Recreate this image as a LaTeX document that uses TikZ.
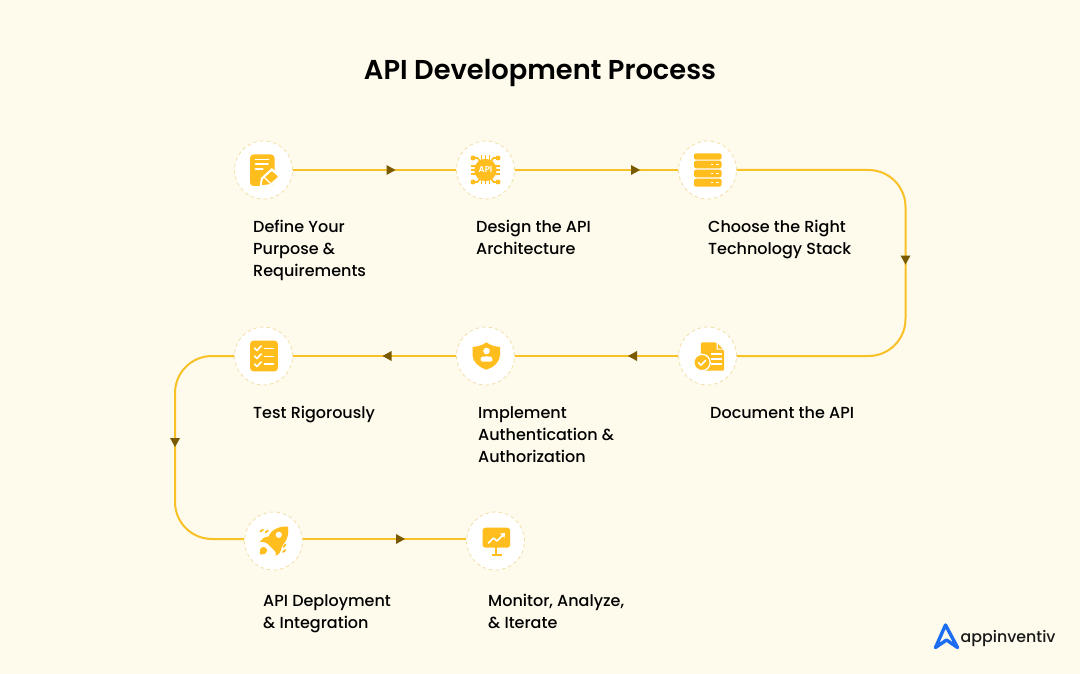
\documentclass[tikz,border=0pt]{standalone}
\usepackage{fontspec}
\setmainfont{Poppins}
\newfontfamily\medfont{Poppins Medium}
\newfontfamily\semifont{Poppins SemiBold}
\usetikzlibrary{calc}
\definecolor{bgcol}{HTML}{FEFAEC}
\definecolor{flowcol}{HTML}{F8C126}
\definecolor{tipcol}{HTML}{7A5A00}
\definecolor{ringcol}{HTML}{F3DFA6}
\definecolor{iconcol}{HTML}{FFBD1E}
\definecolor{logocol}{HTML}{1C6DF2}
\tikzset{
  x=1pt,y=-1pt,
  stepdisc/.style={circle,fill=white,draw=ringcol,line width=0.8pt,dash pattern=on 3.5pt off 3pt,minimum size=58pt,inner sep=0pt},
  flow/.style={draw=flowcol,line width=2pt},
  steplabel/.style={anchor=north west,inner sep=0pt,align=left,font=\medfont\fontsize{16}{22}\selectfont,text=black},
  tip/.pic={\fill[tipcol] (4.5,0) -- (-4.5,-5) -- (-4.5,5) -- cycle;},
  whitestroke/.style={draw=white,line width=1.6pt,line cap=round,line join=round},
}
\newcommand{\fl}[1]{\rule{0pt}{13pt}#1}
\begin{document}
\begin{tikzpicture}
\useasboundingbox (0,0) rectangle (1080,674);
\fill[bgcol] (0,0) rectangle (1080,674);

\node[inner sep=0pt,font=\semifont\fontsize{27.3}{32}\selectfont,text=black] (title) at (540,73) {API Development Process};

% stations
\node[stepdisc] (n1) at (263.5,170) {};
\node[stepdisc] (n2) at (485.5,170) {};
\node[stepdisc] (n3) at (707.5,170) {};
\node[stepdisc] (n4) at (707.5,356) {};
\node[stepdisc] (n5) at (485.5,356) {};
\node[stepdisc] (n6) at (263.5,356) {};
\node[stepdisc] (n7) at (273.5,541) {};
\node[stepdisc] (n8) at (495.5,541) {};

% routing helpers
\coordinate (tr) at (905.5,170);
\coordinate (br) at (905.5,356);
\coordinate (ml) at (175,356);
\coordinate (bl) at (175,539);
\coordinate (lane) at (0,539);

% connectors
\draw[flow] (n1.east) -- (n2.west);
\draw[flow] (n2.east) -- (n3.west);
\draw[flow,rounded corners=37pt] (n3.east) -- (tr) -- (br) -- (n4.east);
\draw[flow] (n4.west) -- (n5.east);
\draw[flow] (n5.west) -- (n6.east);
\draw[flow,rounded corners=37pt] (n6.west) -- (ml) -- (bl) -- (n7.west |- lane);
\draw[flow] (n7.east |- lane) -- (n8.west |- lane);

% arrow marks
\path (391,170) pic {tip};
\path (635.5,170) pic {tip};
\path (905.5,260) pic[rotate=-90] {tip};
\path (632.5,356) pic[rotate=180] {tip};
\path (387,356) pic[rotate=180] {tip};
\path (175,442.5) pic[rotate=-90] {tip};
\path (400.5,539) pic {tip};

% icon 1: document + pencil
\begin{scope}[shift={(n1.center)}]
  \fill[iconcol,rounded corners=3.5pt] (-13.5,-15.5) rectangle (11,16);
  \draw[whitestroke] (-8,-10.5) -- (5,-10.5) (-8,-5.7) -- (4.5,-5.7) (-8,-1) -- (-0.7,-1);
  \fill[white] (-4,18) -- (-2.6,8) -- (8.3,-2) -- (18,6.7) -- (6.5,18) -- cycle;
  \fill[iconcol,rounded corners=0.8pt] (-1.8,15.2) -- (-0.7,9.3) -- (8.3,1) -- (14.6,6.7) -- (6,14.2) -- cycle;
  \draw[draw=white,line width=1.1pt] (0.5,7) -- (7,13.5);
\end{scope}

% icon 2: API chip
\begin{scope}[shift={(n2.center)}]
  \draw[iconcol,line width=1.5pt]
    (-14.5,-4) -- (14.5,-4) (-14.5,0) -- (14.5,0) (-14.5,4) -- (14.5,4)
    (-4,-14.5) -- (-4,14.5) (0,-14.5) -- (0,14.5) (4,-14.5) -- (4,14.5);
  \draw[iconcol,line width=1.6pt]
    (-12,-12) -- (-8,-12) -- (-5,-8)  (12,-12) -- (8,-12) -- (5,-8)
    (-12,12) -- (-8,12) -- (-5,8)  (12,12) -- (8,12) -- (5,8);
  \fill[iconcol] (-12.5,-12) circle (2.5) (12.5,-12) circle (2.5) (-12.5,12) circle (2.5) (12.5,12) circle (2.5);
  \fill[iconcol] (0,0) circle (11.2);
  \node[inner sep=0pt,text=white,font=\semifont\fontsize{8.5}{9}\selectfont] (apitxt) at (0,0) {API};
\end{scope}

% icon 3: server
\begin{scope}[shift={(n3.center)}]
  \fill[iconcol,rounded corners=2pt] (-13.5,-16.7) rectangle (14,-10.3);
  \fill[iconcol,rounded corners=2pt] (-13.5,-9.3) rectangle (14,-1.7);
  \fill[iconcol,rounded corners=2pt] (-13.5,-0.3) rectangle (14,7.3);
  \fill[iconcol,rounded corners=2pt] (-13.5,8.7) rectangle (14,16.7);
  \draw[draw=white,line width=1.2pt] (3,-5.5) -- (5.5,-5.5) (8,-5.5) -- (11,-5.5)
    (3,3.5) -- (5.5,3.5) (8,3.5) -- (11,3.5)
    (3,12.7) -- (5.5,12.7) (8,12.7) -- (11,12.7);
\end{scope}

% icon 4: document with check
\begin{scope}[shift={(n4.center)}]
  \fill[iconcol,rounded corners=2pt] (-6.7,-13.7) -- (9,-13.7) -- (16.7,-6) -- (16.7,14.7) -- (-6.7,14.7) -- cycle;
  \fill[white] (9.2,-13.7) -- (9.2,-6.3) -- (16.7,-6.3) -- cycle;
  \fill[iconcol] (10.3,-12) -- (10.3,-7.3) -- (15,-7.3) -- cycle;
  \draw[draw=white,line width=1.3pt] (3,-2) -- (14,-2) (3,3) -- (14,3) (3,8) -- (14,8);
  \fill[iconcol,draw=white,line width=1.3pt] (-5.5,6.5) circle (8.2);
  \draw[whitestroke] (-9,6.8) -- (-6.5,9.2) -- (-2,4.5);
\end{scope}

% icon 5: shield with person
\begin{scope}[shift={(n5.center)}]
  \fill[iconcol] (0.8,-13.7) .. controls (5,-10.5) and (10,-9.5) .. (14.5,-9) -- (14.5,-1)
    .. controls (14.5,6) and (8,11.5) .. (0.8,13.7) .. controls (-6,11.5) and (-13,6) .. (-13,-1) -- (-13,-9)
    .. controls (-8,-9.5) and (-3,-10.5) .. (0.8,-13.7) -- cycle;
  \fill[white] (1,-5) circle (3.3);
  \fill[white,rounded corners=1.5pt] (-5,5.5) -- (-5,3) .. controls (-4,0) and (6,0) .. (7,3) -- (7,5.5) -- cycle;
\end{scope}

% icon 6: checklist
\begin{scope}[shift={(n6.center)}]
  \fill[iconcol,rounded corners=3pt] (-13.3,-15.3) rectangle (14.3,15.3);
  \draw[whitestroke] (-9,-8) -- (-6.5,-5.5) -- (-2.3,-10)
    (-9,0) -- (-6.5,2.5) -- (-2.3,-2)
    (-9,8) -- (-6.5,10.5) -- (-2.3,6);
  \draw[whitestroke] (1,-7.7) -- (10,-7.7) (1,0.3) -- (10,0.3) (1,8) -- (10,8);
\end{scope}

% icon 7: rocket
\begin{scope}[shift={(n7.center)}]
  \fill[iconcol] (14.5,-14.5) .. controls (8,-15) and (2,-13) .. (-2.3,-9)
    -- (-5,-4.5) .. controls (-9,-4) and (-12,-2) .. (-14,1) .. controls (-10,0.5) and (-7,1.5) .. (-5.5,3)
    -- (1,9.5) .. controls (2.5,11) and (3,13) .. (2,15) .. controls (5.5,13.5) and (8,10) .. (8,6.5)
    -- (10,3) .. controls (14,-1) and (15.5,-8) .. (14.5,-14.5) -- cycle;
  \fill[white] (5.3,-6.2) circle (3.1);
  \fill[iconcol] (-10,9.5) circle (3.6);
  \fill[iconcol] (-13.8,13.5) -- (-13.3,8.5) -- (-8.5,13) -- cycle;
  \draw[iconcol,line width=1.7pt,line cap=round] (-13,-9.5) -- (-10.5,-11.5) (-8,-8.5) -- (-5.5,-10.5)
    (10,6) -- (12,3.5) (9.5,11) -- (12,9);
\end{scope}

% icon 8: monitor with trend
\begin{scope}[shift={(n8.center)}]
  \fill[iconcol,rounded corners=3pt] (-13,-13.3) rectangle (14.7,6.7);
  \draw[iconcol,line width=1.7pt] (0.7,6) -- (0.7,14) (-4,14) -- (6,14);
  \draw[whitestroke] (-7,2) -- (-2,-3) -- (1.5,0) -- (8,-6.5);
  \fill[white] (9.5,-8) -- (4.5,-7.5) -- (9,-3) -- cycle;
\end{scope}

% labels
\node[steplabel] (l1) at (253,219) {\fl{Define Your}\\Purpose \&\\Requirements};
\node[steplabel] (l2) at (476,219) {\fl{Design the API}\\Architecture};
\node[steplabel] (l3) at (708,219) {\fl{Choose the Right}\\Technology Stack};
\node[steplabel] (l4) at (710,405) {\fl{Document the API}};
\node[steplabel] (l5) at (478,405) {\fl{Implement}\\Authentication \&\\Authorization};
\node[steplabel] (l6) at (253,405) {\fl{Test Rigorously}};
\node[steplabel] (l7) at (263,593) {\fl{API Deployment}\\\& Integration};
\node[steplabel] (l8) at (488,593) {\fl{Monitor, Analyze,}\\\& Iterate};

% logo
\draw[logocol,line width=3.4pt,line join=round,line cap=round] (935.5,647.5) -- (945.5,625) -- (957.5,647.5) -- (946.5,640) -- cycle;
\node[anchor=base west,inner sep=0pt,font=\medfont\fontsize{15.8}{20}\selectfont,text=black!90] (logotext) at (960.5,642) {appinventiv};
\end{tikzpicture}
\end{document}
